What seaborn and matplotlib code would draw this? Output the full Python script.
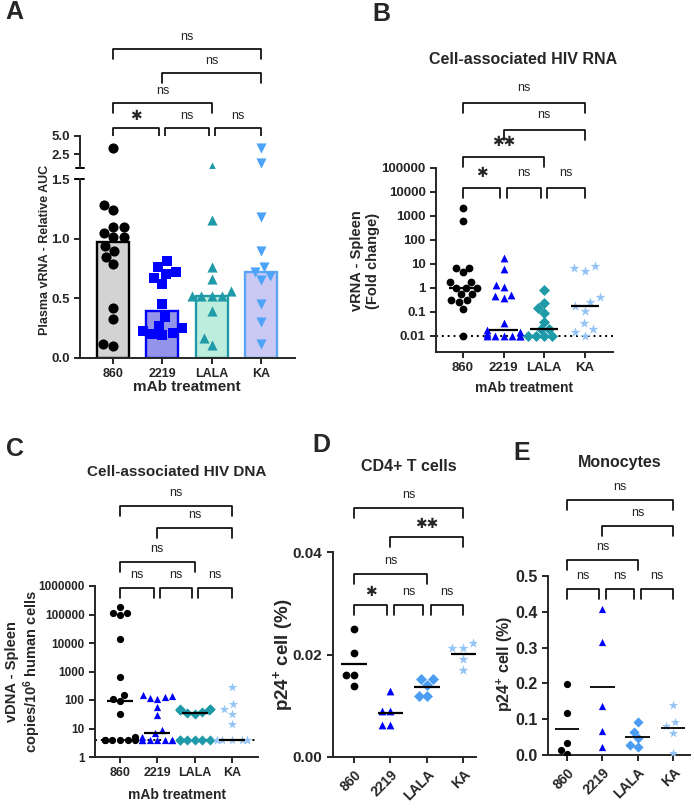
import numpy as np
import pandas as pd
import matplotlib
matplotlib.use("Agg")
import matplotlib.pyplot as plt
import matplotlib.transforms as mtrans
import seaborn as sns

groups = ["860", "2219", "LALA", "KA"]

# A - plasma vRNA, relative AUC
auc_860 = [3.2, 1.28, 1.24, 1.10, 1.10, 1.05, 1.01, 1.01, 0.94, 0.90, 0.85, 0.79, 0.42, 0.33, 0.12, 0.10]
auc_2219 = [0.81, 0.76, 0.72, 0.70, 0.67, 0.62, 0.45, 0.34, 0.27, 0.25, 0.23, 0.21, 0.20, 0.19]
auc_lala = [1.55, 1.16, 0.76, 0.66, 0.56, 0.52, 0.52, 0.52, 0.52, 0.39, 0.17, 0.11]
auc_ka = [3.2, 1.8, 1.18, 0.90, 0.76, 0.72, 0.69, 0.65, 0.45, 0.30, 0.12]

# B - cell-associated HIV RNA (fold change)
rna_860 = [2100, 600, 7.0, 7.0, 4.5, 1.7, 1.7, 1.0, 1.0, 1.0, 0.55, 0.55, 0.32, 0.32, 0.25, 0.13, 0.01]
rna_2219 = [17, 6.2, 1.3, 1.1, 0.5, 0.45, 0.4, 0.034, 0.018, 0.015, 0.012, 0.01, 0.01, 0.01, 0.01, 0.01, 0.01]
rna_lala = [0.83, 0.23, 0.14, 0.09, 0.04, 0.02, 0.02, 0.01, 0.01, 0.01, 0.01]
rna_ka = [8.5, 6.6, 5.3, 0.43, 0.27, 0.18, 0.11, 0.034, 0.02, 0.015, 0.01]

# C - cell-associated HIV DNA (copies / 10^6 cells)
dna_860 = [187000, 115000, 110000, 95000, 13500, 650, 150, 105, 93, 31, 5, 4, 4, 4, 4, 4, 4]
dna_2219 = [150, 140, 130, 120, 110, 55, 30, 9, 7, 5, 4, 4, 4, 4, 4, 4, 4]
dna_lala = [50, 48, 47, 46, 45, 44, 38, 35, 32, 4, 4, 4, 4, 4, 4]
dna_ka = [285, 70, 50, 31, 14, 4, 4, 4, 4, 4, 4, 4]

# D - p24+ CD4+ T cells (%)
cd4_860 = [0.025, 0.0202, 0.016, 0.016, 0.0139]
cd4_2219 = [0.0129, 0.0089, 0.0089, 0.0063, 0.0063]
cd4_lala = [0.0152, 0.0152, 0.0141, 0.0119, 0.0119]
cd4_ka = [0.0223, 0.0213, 0.0212, 0.0191, 0.0170]

# E - p24+ monocytes (%)
mono_860 = [0.198, 0.118, 0.034, 0.014, 0.002]
mono_2219 = [0.407, 0.316, 0.138, 0.067, 0.023]
mono_lala = [0.093, 0.065, 0.047, 0.023, 0.028]
mono_ka = [0.14, 0.093, 0.082, 0.062, 0.005]

lod_rna = 0.01
lod_dna = 4

bar_fill = {"860": "#d3d3d3", "2219": "#8585f7", "LALA": "#b5f5e0", "KA": "#c2c2fb"}
bar_edge = ["black", "#0000ff", "#1e9aa8", "#5aa5f5"]
colA = ["black", "#0000ff", "#1e9aa8", "#4da3f7"]
colBC = ["black", "#0000ff", "#1e9aa8", "#93c4f5"]
colDE = ["black", "#0000ff", "#4a9df2", "#93c4f5"]
mkA = ["o", "s", "^", "v"]
mk = ["o", "^", "D", "*"]

sns.set_style("ticks")
plt.rcParams["font.family"] = ["Liberation Sans", "DejaVu Sans"]
plt.rcParams["font.weight"] = "bold"
plt.rcParams["mathtext.fontset"] = "custom"
plt.rcParams["mathtext.rm"] = "Liberation Sans:bold"
plt.rcParams["mathtext.bf"] = "Liberation Sans:bold"
plt.rcParams["mathtext.default"] = "bf"
plt.rcParams["axes.linewidth"] = 1.4
plt.rcParams["xtick.major.width"] = 1.4
plt.rcParams["ytick.major.width"] = 1.4
plt.rcParams["xtick.major.size"] = 4
plt.rcParams["ytick.major.size"] = 4

W, H = 694, 810
fig = plt.figure(figsize=(W / 100, H / 100), dpi=100)


def fx(x):
    return x / W


def fy(y):
    return 1 - y / H


def box(x0, y0, x1, y1):
    return [x0 / W, 1 - y1 / H, (x1 - x0) / W, (y1 - y0) / H]


def frame(vals):
    return pd.DataFrame({"group": np.repeat(groups, [len(v) for v in vals]),
                         "value": np.concatenate(vals)})


def swarm(ax, df, markers, colors, size):
    for g, m, c in zip(groups, markers, colors):
        sub = df[df.group == g]
        if len(sub) == 0:
            continue
        sns.swarmplot(data=sub, x="group", y="value", order=groups, marker=m,
                      color=c, size=size if m != "*" else size * 1.35,
                      warn_thresh=1, ax=ax)


def centre_line(ax, df, stat, lw=1.6):
    kw = dict(data=df, x="group", y="value", order=groups, width=0.7,
              showbox=False, showcaps=False, showfliers=False,
              whiskerprops={"visible": False}, zorder=5, ax=ax)
    if stat == "median":
        kw["medianprops"] = {"color": "black", "lw": lw}
    else:
        kw.update(showmeans=True, meanline=True,
                  meanprops={"color": "black", "ls": "-", "lw": lw},
                  medianprops={"visible": False})
    sns.boxplot(**kw)


def brackets(ax, spec, lift, tick=10):
    tr = mtrans.blended_transform_factory(ax.transData, fig.transFigure)
    for x1, x2, y, lab in spec:
        ax.plot([x1, x1, x2, x2], [fy(y + tick), fy(y), fy(y), fy(y + tick)],
                color="black", lw=1.2, transform=tr, clip_on=False)
        if lab == "ns":
            ax.text((x1 + x2) / 2, fy(y - lift), lab, transform=tr, ha="center",
                    va="center", fontsize=9, fontweight="normal")
        else:
            ax.text((x1 + x2) / 2, fy(y - lift), lab, transform=tr, ha="center",
                    va="center", fontsize=10, family=["DejaVu Sans"])


def tidy(ax, xlim, xsize, ysize, rot=False):
    sns.despine(ax=ax)
    ax.set_xlabel("")
    ax.set_ylabel("")
    ax.set_xlim(*xlim)
    if rot:
        ax.set_xticks(range(4), groups, rotation=45, ha="right",
                      rotation_mode="anchor", fontsize=xsize)
    else:
        ax.set_xticks(range(4), groups, fontsize=xsize)
    ax.tick_params(axis="y", labelsize=ysize)


# ---------------- A ----------------
dfA = frame([auc_860, auc_2219, auc_lala, auc_ka])
axA = fig.add_axes(box(80, 179, 295, 358))
axAt = fig.add_axes(box(80, 136, 295, 168))
sns.barplot(data=dfA, x="group", y="value", hue="group", order=groups,
            hue_order=groups, palette=bar_fill, estimator="median",
            errorbar=None, width=0.65, linewidth=1.7, legend=False, ax=axA)
for patch, ec in zip(axA.patches, bar_edge):
    patch.set_edgecolor(ec)
swarm(axA, dfA, mkA, colA, 7.3)
axA.set_ylim(0, 1.5)
axA.set_yticks([0, 0.5, 1.0, 1.5], ["0.0", "0.5", "1.0", "1.5"])
axAt.set_yscale("log")
swarm(axAt, dfA[dfA.value > 1.5], mkA, colA, 7.3)
axAt.set_ylim(1.5, 5.0)
axAt.set_yticks([2.5, 5.0], ["2.5", "5.0"])
axAt.minorticks_off()
brackets(axA, [(0, 3, 49, "ns"), (1, 3, 73, "ns"), (0, 2, 103, "ns"),
               (0, 0.94, 128, "\u2731"), (1.06, 1.94, 128, "ns"),
               (2.06, 3, 128, "ns")], 12)
tidy(axA, (-0.67, 3.69), 9, 9.5)
tidy(axAt, (-0.67, 3.69), 9, 9.5)
axAt.spines["bottom"].set_visible(False)
axAt.set_xticks([])
axA.plot([-0.02, 0.02], [1, 1], color="black", lw=1.4,
         transform=axA.transAxes, clip_on=False)
axAt.plot([-0.02, 0.02], [0, 0], color="black", lw=1.4,
          transform=axAt.transAxes, clip_on=False)
fig.text(fx(45), fy(250), "Plasma vRNA - Relative AUC", rotation=90,
         ha="center", va="center", fontsize=9)
fig.text(fx(187), fy(387), "mAb treatment", ha="center", va="center", fontsize=11)

# ---------------- B ----------------
dfB = frame([rna_860, rna_2219, rna_lala, rna_ka])
axB = fig.add_axes(box(436, 168, 613, 352))
axB.set_yscale("log")
swarm(axB, dfB, mk, colBC, 5.6)
centre_line(axB, dfB, "median")
axB.axhline(lod_rna, ls=(0, (1, 2)), color="black", lw=1.4, zorder=0)
axB.set_ylim(0.00215, 1e5)
ticksB = [0.01, 0.1, 1, 10, 100, 1000, 10000, 100000]
axB.set_yticks(ticksB, ["0.01", "0.1", "1", "10", "100", "1000", "10000", "100000"])
axB.minorticks_off()
brackets(axB, [(0, 3, 103, "ns"), (1, 3, 130, "ns"), (0, 2, 157, "\u2731\u2731"),
               (0, 0.92, 188, "\u2731"), (1.08, 1.92, 188, "ns"),
               (2.08, 3, 188, "ns")], 15)
tidy(axB, (-0.66, 3.69), 9.5, 9.5)
fig.text(fx(523), fy(60), "Cell-associated HIV RNA", ha="center", va="center",
         fontsize=11.5)
fig.text(fx(365), fy(261), "vRNA - Spleen\n(Fold change)", rotation=90,
         ha="center", va="center", fontsize=10.5, linespacing=1.1)
fig.text(fx(524), fy(388), "mAb treatment", ha="center", va="center", fontsize=10)

# ---------------- C ----------------
dfC = frame([dna_860, dna_2219, dna_lala, dna_ka])
axC = fig.add_axes(box(95, 586, 258, 757))
axC.set_yscale("log")
swarm(axC, dfC, mk, colBC, 5.2)
centre_line(axC, dfC, "median")
axC.axhline(lod_dna, ls=(0, (1, 2)), color="black", lw=1.4, zorder=0)
axC.set_ylim(1, 1e6)
ticksC = [1, 10, 100, 1000, 10000, 100000, 1000000]
axC.set_yticks(ticksC, [str(t) for t in ticksC])
axC.minorticks_off()
brackets(axC, [(0, 3, 506, "ns"), (1, 3, 528, "ns"), (0, 2, 562, "ns"),
               (0, 0.92, 588, "ns"), (1.08, 1.92, 588, "ns"),
               (2.08, 3, 588, "ns")], 13)
tidy(axC, (-0.67, 3.7), 9, 8.5)
fig.text(fx(177), fy(472), "Cell-associated HIV DNA", ha="center", va="center",
         fontsize=11)
fig.text(fx(24), fy(672), "vDNA - Spleen\ncopies/10$^{6}$ human cells", rotation=90,
         ha="center", va="center", fontsize=10.5, linespacing=1.1)
fig.text(fx(177), fy(795), "mAb treatment", ha="center", va="center", fontsize=10)

# ---------------- D ----------------
dfD = frame([cd4_860, cd4_2219, cd4_lala, cd4_ka])
axD = fig.add_axes(box(333, 552, 476, 757))
swarm(axD, dfD, mk, colDE, 5.6)
centre_line(axD, dfD, "mean")
axD.set_ylim(0, 0.04)
axD.set_yticks([0, 0.02, 0.04], ["0.00", "0.02", "0.04"])
brackets(axD, [(0, 3, 508, "ns"), (1, 3, 537, "\u2731\u2731"), (0, 2, 574, "ns"),
               (0, 0.9, 605, "\u2731"), (1.1, 1.9, 605, "ns"),
               (2.1, 3, 605, "ns")], 13)
tidy(axD, (-0.58, 3.35), 10, 11, rot=True)
fig.text(fx(409), fy(467), "CD4+ T cells", ha="center", va="center", fontsize=11.5)
fig.text(fx(283), fy(655), "p24$^{+}$ cell (%)", rotation=90, ha="center",
         va="center", fontsize=13.5)

# ---------------- E ----------------
dfE = frame([mono_860, mono_2219, mono_lala, mono_ka])
axE = fig.add_axes(box(548, 576, 690, 755))
swarm(axE, dfE, mk, colDE, 5.2)
centre_line(axE, dfE, "mean", lw=1.3)
axE.set_ylim(0, 0.5)
axE.set_yticks([0, 0.1, 0.2, 0.3, 0.4, 0.5], ["0.0", "0.1", "0.2", "0.3", "0.4", "0.5"])
brackets(axE, [(0, 3, 500, "ns"), (1, 3, 526, "ns"), (0, 2, 560, "ns"),
               (0, 0.9, 589, "ns"), (1.1, 1.9, 589, "ns"),
               (2.1, 3, 589, "ns")], 13)
tidy(axE, (-0.54, 3.48), 10, 11.5, rot=True)
fig.text(fx(620), fy(463), "Monocytes", ha="center", va="center", fontsize=11.5)
fig.text(fx(505), fy(664), "p24$^{+}$ cell (%)", rotation=90, ha="center",
         va="center", fontsize=11.5)

# panel letters
for lab, x, y in [("A", 14, 12), ("B", 381, 14), ("C", 15, 449),
                  ("D", 321, 445), ("E", 522, 453)]:
    fig.text(fx(x), fy(y), lab, ha="center", va="center", fontsize=18)

fig.savefig("out.png", dpi=100)
